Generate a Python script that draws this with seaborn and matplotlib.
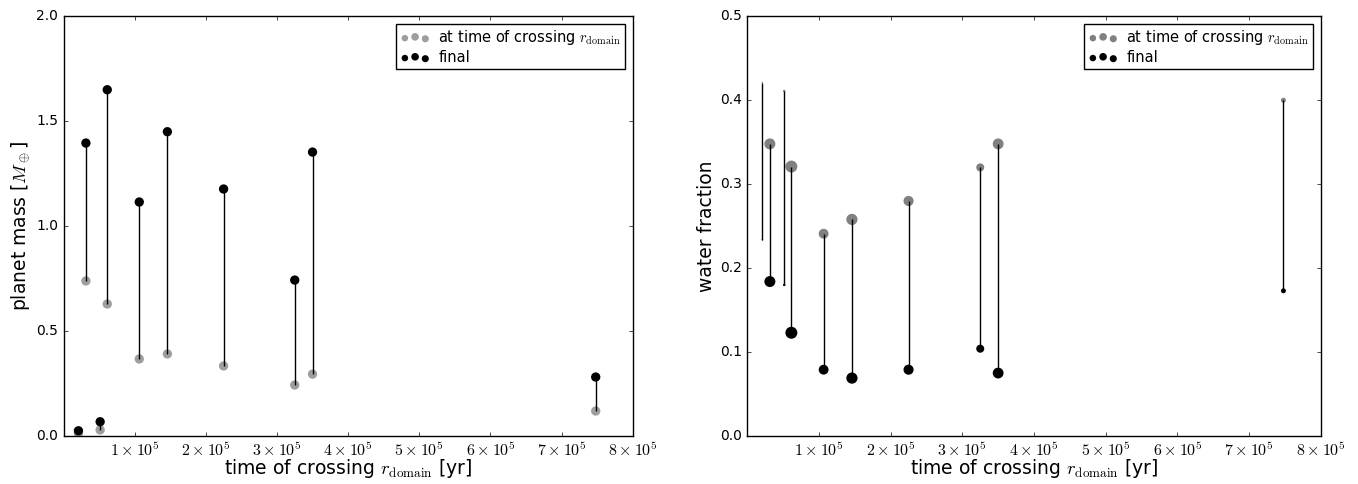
import matplotlib
matplotlib.use("Agg")
import matplotlib.pyplot as plt
import numpy as np
import pandas as pd
import seaborn as sns
from matplotlib.collections import PathCollection
from matplotlib.legend_handler import HandlerPathCollection

# ---- data ----
t_cross = [21000, 31500, 51500, 61500, 106500, 146000, 225000, 325000, 350000, 748000]
mass_cross = [0.012, 0.739, 0.029, 0.629, 0.367, 0.391, 0.334, 0.243, 0.295, 0.119]
mass_final = [0.025, 1.396, 0.068, 1.650, 1.115, 1.450, 1.177, 0.743, 1.353, 0.281]
wf_cross = [0.421, 0.348, 0.411, 0.321, 0.241, 0.258, 0.280, 0.320, 0.348, 0.400]
wf_final = [0.234, 0.184, 0.180, 0.123, 0.079, 0.069, 0.079, 0.104, 0.075, 0.173]

xtick_vals = [1e5, 2e5, 3e5, 4e5, 5e5, 6e5, 7e5, 8e5]
xtick_labels = [r"$1\times10^{5}$", r"$2\times10^{5}$", r"$3\times10^{5}$",
                r"$4\times10^{5}$", r"$5\times10^{5}$", r"$6\times10^{5}$",
                r"$7\times10^{5}$", r"$8\times10^{5}$"]
left_yticks = [0.0, 0.5, 1.0, 1.5, 2.0]
right_yticks = [0.0, 0.1, 0.2, 0.3, 0.4, 0.5]

label_cross = r"at time of crossing $r_{\rm domain}$"
label_final = "final"

df = pd.DataFrame({"t": t_cross, "m_c": mass_cross, "m_f": mass_final,
                   "w_c": wf_cross, "w_f": wf_final})

plt.style.use("classic")
plt.rcParams.update({
    "font.family": ["DejaVu Sans"],
    "mathtext.fontset": "cm",
    "font.size": 10,
    "xtick.labelsize": 11.5,
    "ytick.labelsize": 10,
    "legend.fontsize": 10.5,
    "axes.labelsize": 13.5,
    "xtick.major.size": 3,
    "ytick.major.size": 3,
    "axes.linewidth": 1.0,
    "figure.facecolor": "white",
    "savefig.facecolor": "white",
})

fig = plt.figure(figsize=(13.58, 4.84), dpi=100)
axL = fig.add_axes([0.04676, 0.09917, 0.41915, 0.86715])
axR = fig.add_axes([0.55029, 0.09917, 0.42224, 0.86715])

leg_handler = {PathCollection: HandlerPathCollection(sizes=[22, 30, 26])}
leg_kw = dict(loc="upper right", scatterpoints=3, handler_map=leg_handler,
              fancybox=False, framealpha=1, edgecolor="k",
              labelspacing=0.2, borderpad=0.3, handletextpad=0.6)

# ---- left panel: planet mass ----
sns.scatterplot(data=df, x="t", y="m_c", color="0.62", s=45, edgecolor="none",
                linewidth=0, ax=axL, zorder=2, legend=False)
axL.vlines(df["t"], df["m_c"], df["m_f"], color="k", lw=1.0, zorder=2.5)
sns.scatterplot(data=df, x="t", y="m_f", color="k", s=45, edgecolor="none",
                linewidth=0, ax=axL, zorder=3, legend=False)
axL.set_xlim(0, 8e5)
axL.set_ylim(0, 2.0)
axL.set_xticks(xtick_vals)
axL.set_xticklabels(xtick_labels)
axL.set_yticks(left_yticks)
axL.set_xlabel(r"time of crossing $r_{\rm domain}$ [yr]", labelpad=-1.5)
axL.set_ylabel(r"planet mass [$M_\oplus$]", labelpad=3)
hL = axL.collections
axL.legend([hL[0], hL[2]], [label_cross, label_final], **leg_kw)

# ---- right panel: water fraction ----
smin, smax = 45 * min(mass_final), 45 * max(mass_final)
sns.scatterplot(data=df, x="t", y="w_c", size="m_f", sizes=(smin, smax),
                size_norm=(min(mass_final), max(mass_final)),
                color="0.5", edgecolor="none", linewidth=0, ax=axR, zorder=2, legend=False)
axR.vlines(df["t"], df["w_c"], df["w_f"], color="k", lw=1.0, zorder=2.5)
sns.scatterplot(data=df, x="t", y="w_f", size="m_f", sizes=(smin, smax),
                size_norm=(min(mass_final), max(mass_final)),
                color="k", edgecolor="none", linewidth=0, ax=axR, zorder=3, legend=False)
axR.set_xlim(0, 8e5)
axR.set_ylim(0, 0.5)
axR.set_xticks(xtick_vals)
axR.set_xticklabels(xtick_labels)
axR.set_yticks(right_yticks)
axR.set_xlabel(r"time of crossing $r_{\rm domain}$ [yr]", labelpad=-1.5)
axR.set_ylabel("water fraction", labelpad=3)
hR = axR.collections
axR.legend([hR[0], hR[2]], [label_cross, label_final], **leg_kw)

for ax in (axL, axR):
    ax.tick_params(direction="in", top=True, right=True)

fig.savefig("out.png", dpi=100)
